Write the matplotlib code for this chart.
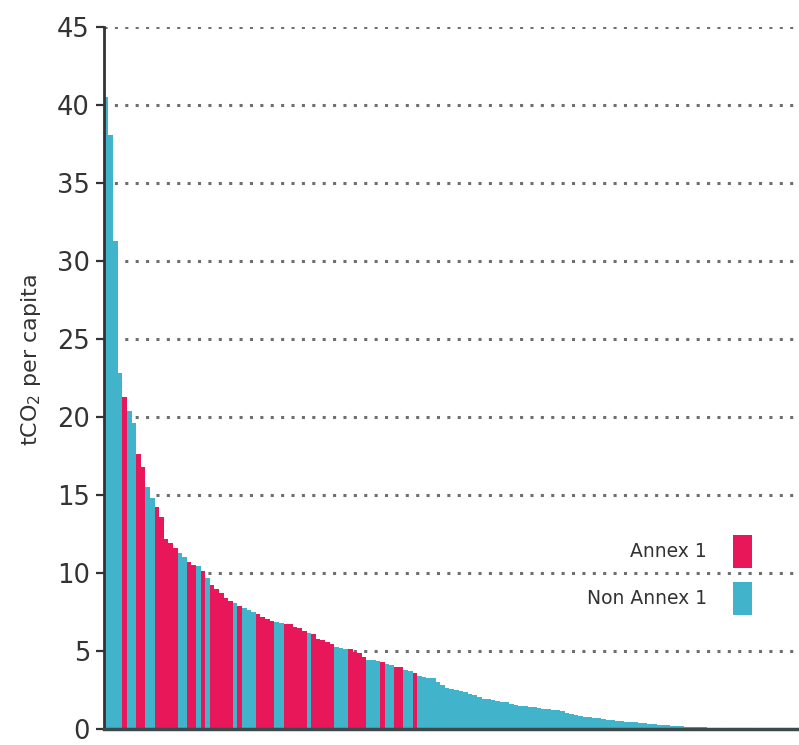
import matplotlib
matplotlib.use('Agg')
import matplotlib.pyplot as plt
from matplotlib.patches import Patch

# tCO2 per capita, countries sorted from highest to lowest
co2_per_capita = [
    40.5, 38.1, 31.3, 22.8, 21.3, 20.4, 19.6, 17.6, 16.8, 15.5,
    14.8, 14.2, 13.6, 12.2, 11.9, 11.6, 11.3, 11.0, 10.7, 10.5,
    10.45, 10.1, 9.7, 9.2, 9.0, 8.7, 8.4, 8.2, 8.1, 7.9,
    7.75, 7.65, 7.5, 7.35, 7.2, 7.05, 6.95, 6.85, 6.8, 6.75,
    6.7, 6.55, 6.45, 6.25, 6.15, 6.1, 5.8, 5.7, 5.55, 5.45,
    5.25, 5.2, 5.15, 5.1, 4.95, 4.85, 4.6, 4.45, 4.4, 4.35,
    4.3, 4.15, 4.1, 4.0, 3.95, 3.75, 3.7, 3.6, 3.4, 3.35,
    3.3, 3.25, 3.0, 2.85, 2.6, 2.55, 2.5, 2.45, 2.35, 2.25,
    2.15, 2.05, 1.95, 1.9, 1.85, 1.8, 1.75, 1.7, 1.6, 1.55,
    1.5, 1.45, 1.42, 1.4, 1.35, 1.3, 1.27, 1.24, 1.2, 1.15,
    1.0, 0.95, 0.9, 0.85, 0.8, 0.76, 0.72, 0.68, 0.64, 0.6,
    0.55, 0.52, 0.5, 0.47, 0.45, 0.43, 0.4, 0.37, 0.34, 0.31,
    0.28, 0.25, 0.23, 0.21, 0.19, 0.17, 0.15, 0.14, 0.12, 0.11,
    0.1, 0.09, 0.085, 0.08, 0.075, 0.07, 0.065, 0.06, 0.055, 0.05,
    0.045, 0.04, 0.038, 0.035, 0.03, 0.028, 0.025, 0.022, 0.02, 0.018,
]

# positions (in sorted order) of Annex 1 countries; the rest are Non Annex 1
annex1_ranks = [4, 7, 8, 11, 12, 13, 14, 15, 18, 19, 21, 23, 24, 25, 26, 27,
                29, 33, 34, 35, 36, 39, 40, 41, 42, 43, 45, 46, 47, 48, 49,
                53, 54, 55, 56, 60, 63, 64, 67]

legend_labels = ['Annex 1', 'Non Annex 1']
red = '#e8175a'
teal = '#41b3cb'

colors = [red if i in annex1_ranks else teal for i in range(len(co2_per_capita))]

fig = plt.figure(figsize=(7.99, 7.45), dpi=100)
ax = fig.add_axes([0.130, 0.0215, 0.870, 0.9423])

ax.bar(range(len(co2_per_capita)), co2_per_capita, width=1.0, color=colors,
       linewidth=0, zorder=2)

ax.set_xlim(-0.5, len(co2_per_capita) - 0.5 + 0.9)
ax.set_ylim(0, 45)
ax.set_yticks(range(0, 46, 5))
ax.set_xticks([])

ax.grid(axis='y', color='#6e6e6e', linestyle=(0, (1, 2.4)), linewidth=2.2, zorder=1)
ax.set_axisbelow(True)

for side in ['top', 'right']:
    ax.spines[side].set_visible(False)
ax.spines['left'].set_color('#333333')
ax.spines['left'].set_linewidth(2)
ax.spines['bottom'].set_color('#3d4a4c')
ax.spines['bottom'].set_linewidth(2.5)
ax.spines['bottom'].set_zorder(3)

ax.tick_params(axis='y', direction='out', length=6, width=1.6, color='#333333',
               labelsize=18.5, labelcolor='#333333', pad=4)

ax.set_ylabel('tCO$_2$ per capita', fontsize=16, color='#333333')
ax.yaxis.set_label_coords(-0.088, 0.525)

handles = [Patch(facecolor=red, edgecolor='none'), Patch(facecolor=teal, edgecolor='none')]
ax.legend(handles, legend_labels, loc='upper right',
          bbox_to_anchor=(752 / 799, 1 - 535 / 745), bbox_transform=fig.transFigure,
          frameon=False, markerfirst=False, fontsize=13.5, labelcolor='#333333',
          handlelength=1.0, handleheight=2.33, handletextpad=1.4,
          labelspacing=0.75, borderpad=0, borderaxespad=0)

fig.savefig('out.png', dpi=100)
